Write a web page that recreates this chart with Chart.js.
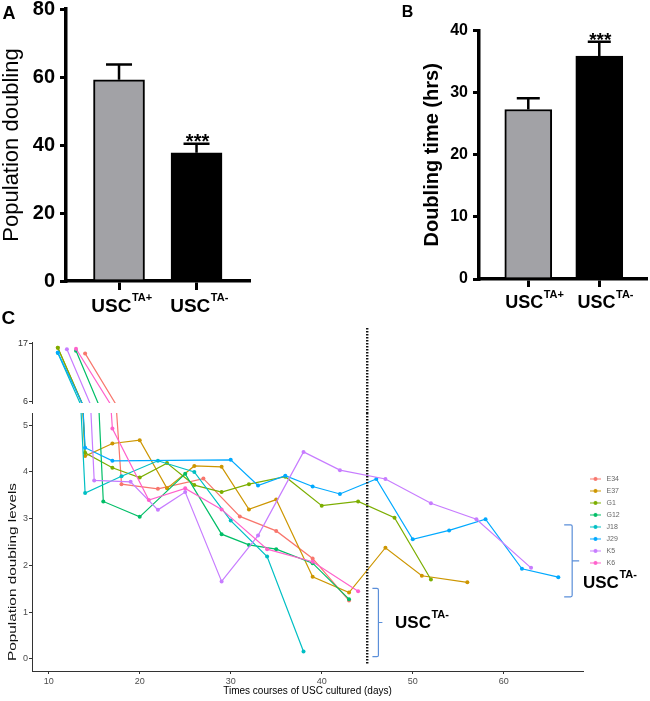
<!DOCTYPE html>
<html><head><meta charset="utf-8">
<script src="https://cdn.jsdelivr.net/npm/chart.js@4.4.1/dist/chart.umd.min.js"></script>
<style>
html,body{margin:0;padding:0;background:#fff;}
#wrap{position:relative;width:650px;height:701px;overflow:hidden;background:#fff;}
canvas{position:absolute;display:block;}
</style></head><body>
<div id="wrap">
<canvas id="cLow" width="650" height="381" style="left:0;top:320px;width:650px;height:381px"></canvas>
<canvas id="cUp" width="650" height="113" style="left:0;top:300px;width:650px;height:113px"></canvas>
<canvas id="cA" width="330" height="320" style="left:0;top:0;width:330px;height:320px"></canvas>
<canvas id="cB" width="320" height="320" style="left:330px;top:0;width:320px;height:320px"></canvas>
</div>
<script>
// ---------------- DATA ----------------
// Panels A & B
const groupMain = ['USC', 'USC'];
const groupSup = ['TA+', 'TA-'];
const pdMeans = [59.2, 37.7];          // population doubling
const pdErr = [4.5, 2.7];
const dtMeans = [27.3, 35.9];          // doubling time (hrs)
const dtErr = [1.8, 2.3];
const yTicksA = [0, 20, 40, 60, 80];
const yTicksB = [0, 10, 20, 30, 40];

// Panel C
const seriesNames = ['E34', 'E37', 'G1', 'G12', 'J18', 'J29', 'K5', 'K6'];
const daysE34 = [14, 18, 22, 27, 31, 35, 39, 43];
const pdlE34  = [15.2, 3.74, 3.64, 3.86, 3.05, 2.74, 2.15, 1.25];
const daysE37 = [11, 14, 17, 20, 23, 26, 29, 32, 35, 39, 43, 47, 51, 56];
const pdlE37  = [16.3, 4.34, 4.61, 4.68, 3.65, 4.13, 4.11, 3.2, 3.41, 1.76, 1.42, 2.38, 1.78, 1.64];
const daysG1  = [11, 14, 17, 20, 23, 26, 29, 32, 36, 40, 44, 48, 52];
const pdlG1   = [16.3, 4.41, 4.09, 3.88, 4.19, 3.72, 3.57, 3.74, 3.9, 3.28, 3.37, 3.02, 1.7];
const daysG12 = [13, 16, 20, 25, 29, 32, 35, 39, 43];
const pdlG12  = [15.7, 3.37, 3.04, 3.96, 2.67, 2.44, 2.35, 2.05, 1.28];
const daysJ18 = [11, 14, 18, 22, 26, 30, 34, 38];
const pdlJ18  = [15.3, 3.55, 3.91, 4.24, 4.0, 2.96, 2.19, 0.16];
const daysJ29 = [11, 14, 17, 30, 33, 36, 39, 42, 46, 50, 54, 58, 62, 66];
const pdlJ29  = [15.4, 4.52, 4.24, 4.26, 3.71, 3.92, 3.69, 3.53, 3.85, 2.56, 2.75, 2.99, 1.93, 1.75];
const daysK5  = [12, 15, 19, 22, 25, 29, 33, 38, 42, 47, 52, 57, 63];
const pdlK5   = [16.0, 3.82, 3.79, 3.19, 3.57, 1.66, 2.64, 4.43, 4.04, 3.85, 3.33, 2.99, 1.95];
const daysK6  = [13, 17, 21, 25, 29, 34, 39, 44];
const pdlK6   = [16.1, 4.93, 3.4, 3.65, 3.2, 2.35, 2.08, 1.45];
const seriesDays = [daysE34, daysE37, daysG1, daysG12, daysJ18, daysJ29, daysK5, daysK6];
const seriesVals = [pdlE34, pdlE37, pdlG1, pdlG12, pdlJ18, pdlJ29, pdlK5, pdlK6];
const xTicksC = [10, 20, 30, 40, 50, 60];
const lowerYTicks = [0, 1, 2, 3, 4, 5];
const upperYTicks = [6, 17];
const cutoffDay = 45;

// ---------------- STYLE ----------------
const FONT = "'Liberation Sans', Arial, Helvetica, sans-serif";
const seriesColors = ['#F8766D', '#CD9600', '#7CAE00', '#00BE67', '#00BFC4', '#00A9FF', '#C77CFF', '#FF61CC'];
const barFills = ['#a2a2a6', '#000000'];

function drawSup(ctx, main, sup, x, baseline, mainSize, supSize, raise, align) {
  ctx.save();
  ctx.fillStyle = '#000';
  ctx.textBaseline = 'alphabetic';
  ctx.textAlign = 'left';
  ctx.font = 'bold ' + mainSize + 'px ' + FONT;
  const w1 = ctx.measureText(main).width;
  ctx.font = 'bold ' + supSize + 'px ' + FONT;
  const w2 = ctx.measureText(sup).width;
  const x0 = align === 'center' ? x - (w1 + w2) / 2 : x;
  ctx.font = 'bold ' + mainSize + 'px ' + FONT;
  ctx.fillText(main, x0, baseline);
  ctx.font = 'bold ' + supSize + 'px ' + FONT;
  ctx.fillText(sup, x0 + w1 + 0.5, baseline - raise);
  ctx.restore();
}

function barExtras(cfg) {
  return {
    id: 'barExtras',
    afterDatasetsDraw(chart) {
      const ctx = chart.ctx, xs = chart.scales.x, ys = chart.scales.y;
      ctx.save();
      ctx.strokeStyle = '#000';
      ctx.lineWidth = 2.5;
      cfg.means.forEach((m, i) => {
        const x = xs.getPixelForValue(i + 1);
        const y0 = ys.getPixelForValue(m);
        const y1 = ys.getPixelForValue(m + cfg.err[i]);
        ctx.beginPath();
        ctx.moveTo(x, y0); ctx.lineTo(x, y1);
        ctx.moveTo(x - cfg.cap / 2, y1); ctx.lineTo(x + cfg.cap / 2, y1);
        ctx.stroke();
      });
      // significance stars on second group
      const xi = xs.getPixelForValue(2);
      const yc = ys.getPixelForValue(cfg.means[1] + cfg.err[1]);
      ctx.fillStyle = '#000';
      ctx.font = 'bold ' + cfg.starSize + 'px ' + FONT;
      ctx.textAlign = 'center';
      ctx.textBaseline = 'alphabetic';
      ctx.fillText('***', xi + 1, yc + 4);
      ctx.restore();
    },
    afterDraw(chart) {
      const ctx = chart.ctx, xs = chart.scales.x;
      groupMain.forEach((m, i) => {
        drawSup(ctx, m, groupSup[i], xs.getPixelForValue(i + 1) + cfg.labelShift, cfg.labelBase,
          cfg.mainSize, cfg.supSize, cfg.raise, 'center');
      });
      ctx.save();
      ctx.fillStyle = '#000';
      ctx.font = 'bold ' + cfg.letterSize + 'px ' + FONT;
      ctx.textAlign = 'left';
      ctx.textBaseline = 'alphabetic';
      ctx.fillText(cfg.letter, cfg.letterX, cfg.letterY);
      ctx.restore();
    }
  };
}

function barChart(id, means, yTicks, yMax, opt) {
  return new Chart(document.getElementById(id), {
    type: 'bar',
    data: {
      datasets: [{
        data: means.map((v, i) => ({ x: i + 1, y: v })),
        backgroundColor: barFills,
        borderColor: '#000',
        borderWidth: 2,
        barThickness: opt.barW
      }]
    },
    options: {
      responsive: false, animation: false, events: [], devicePixelRatio: 1,
      layout: { padding: opt.padding },
      plugins: { legend: { display: false }, tooltip: { enabled: false } },
      scales: {
        x: {
          type: 'linear', min: opt.xMin, max: opt.xMax, offset: false,
          afterBuildTicks: s => { s.ticks = means.map((v, i) => ({ value: i + 1 })); },
          afterFit: s => { s.height = opt.xH; s.paddingLeft = 0; s.paddingRight = 0; },
          grid: { display: true, offset: false, drawOnChartArea: false, drawTicks: true, tickLength: opt.xTick, lineWidth: 3, color: '#000' },
          border: { display: true, width: 3.5, color: '#000' },
          ticks: { display: false }
        },
        y: {
          min: 0, max: yMax,
          afterBuildTicks: s => { s.ticks = yTicks.map(v => ({ value: v })); },
          afterFit: s => { s.width = opt.yW; s.paddingTop = 0; s.paddingBottom = 0; },
          grid: { drawOnChartArea: false, drawTicks: true, tickLength: 6, lineWidth: 3, color: '#000' },
          border: { display: true, width: 3.5, color: '#000' },
          ticks: { font: { family: FONT, size: opt.tickSize, weight: 'bold' }, color: '#000', padding: 5 },
          title: { display: true, text: opt.title, color: '#000',
            font: { family: FONT, size: opt.titleSize, weight: opt.titleWeight, lineHeight: 1.1 },
            padding: { top: opt.titlePad, bottom: 0 } }
        }
      }
    },
    plugins: [barExtras(opt.extras)]
  });
}

// Panel A
barChart('cA', pdMeans, yTicksA, 80, {
  barW: 51, padding: { top: 9, left: 0, right: 81, bottom: 0 },
  xMin: 0.316, xMax: 2.677, xH: 39, xTick: 9, yW: 66, tickSize: 20,
  title: 'Population doubling', titleSize: 22, titleWeight: 'normal', titlePad: 0,
  extras: { means: pdMeans, err: pdErr, cap: 26, starSize: 20, labelShift: 2.5, labelBase: 311.7,
    mainSize: 19, supSize: 11, raise: 11, letter: 'A', letterSize: 18, letterX: 2.5, letterY: 19.3 }
});

// Panel B
barChart('cB', dtMeans, yTicksB, 40, {
  barW: 47, padding: { top: 30.7, left: 90, right: 4, bottom: 0 },
  xMin: 0.306, xMax: 2.658, xH: 41, xTick: 8, yW: 59, tickSize: 16,
  title: 'Doubling time (hrs)', titleSize: 20, titleWeight: 'bold', titlePad: 1.5,
  extras: { means: dtMeans, err: dtErr, cap: 23, starSize: 19, labelShift: 6, labelBase: 308.3,
    mainSize: 18, supSize: 11, raise: 10.4, letter: 'B', letterSize: 16, letterX: 71.7, letterY: 16.7 }
});

// ---------------- Panel C ----------------
const X_MIN = 8.165, X_MAX = 68.71;
function cDatasets() {
  return seriesNames.map((name, i) => ({
    label: name,
    data: seriesDays[i].map((d, k) => ({ x: d, y: seriesVals[i][k] })),
    borderColor: seriesColors[i],
    backgroundColor: seriesColors[i],
    borderWidth: 1.2,
    pointRadius: 2,
    pointBorderWidth: 0,
    pointHoverRadius: 2,
    tension: 0,
    fill: false,
    order: seriesNames.length - i
  }));
}

function legendIcon(color) {
  const c = document.createElement('canvas');
  c.width = 11; c.height = 6;
  const g = c.getContext('2d');
  g.strokeStyle = color; g.lineWidth = 1;
  g.beginPath(); g.moveTo(0, 3); g.lineTo(11, 3); g.stroke();
  g.fillStyle = color;
  g.beginPath(); g.arc(5.5, 3, 2, 0, Math.PI * 2); g.fill();
  return c;
}
const icons = seriesColors.map(legendIcon);

function drawVline(chart, yTop, yBot) {
  const ctx = chart.ctx;
  const x = chart.scales.x.getPixelForValue(cutoffDay);
  ctx.save();
  ctx.strokeStyle = '#111';
  ctx.lineWidth = 2.4;
  ctx.setLineDash([1.6, 1.4]);
  ctx.beginPath(); ctx.moveTo(x, yTop); ctx.lineTo(x, yBot); ctx.stroke();
  ctx.restore();
}

const brackets = [
  { x: 46.23, top: 1.51, bottom: 0.05, mid: 0.78, serif: 6, nub: 4, lx: 48.06, ly: 0.663 },
  { x: 67.52, top: 2.87, bottom: 1.33, mid: 2.10, serif: 8, nub: 7, lx: 68.71, ly: 1.52 }
];

const lowerExtras = {
  id: 'lowerExtras',
  afterDatasetsDraw(chart) {
    const ctx = chart.ctx, xs = chart.scales.x, ys = chart.scales.y;
    drawVline(chart, chart.chartArea.top, ys.getPixelForValue(-0.13));
    ctx.save();
    ctx.strokeStyle = '#5b8fd9';
    ctx.lineWidth = 1.2;
    brackets.forEach(b => {
      const x = xs.getPixelForValue(b.x);
      const t = ys.getPixelForValue(b.top), bo = ys.getPixelForValue(b.bottom), m = ys.getPixelForValue(b.mid);
      ctx.beginPath();
      ctx.moveTo(x - b.serif, t); ctx.lineTo(x - 1.5, t);
      ctx.quadraticCurveTo(x, t, x, t + 1.5);
      ctx.lineTo(x, bo - 1.5);
      ctx.quadraticCurveTo(x, bo, x - 1.5, bo);
      ctx.lineTo(x - b.serif, bo);
      ctx.moveTo(x, m); ctx.lineTo(x + b.nub, m);
      ctx.stroke();
    });
    ctx.restore();
  },
  afterDraw(chart) {
    const ctx = chart.ctx, xs = chart.scales.x, ys = chart.scales.y;
    brackets.forEach(b => {
      drawSup(ctx, 'USC', 'TA-', xs.getPixelForValue(b.lx), ys.getPixelForValue(b.ly), 17, 11, 9.6, 'left');
    });
    // stretched y-axis title
    const t = 'Population doubling levels';
    ctx.save();
    ctx.translate(13, 252);
    ctx.rotate(-Math.PI / 2);
    ctx.font = '10.5px ' + FONT;
    const w = ctx.measureText(t).width;
    ctx.scale(178 / w, 1);
    ctx.fillStyle = '#111';
    ctx.textAlign = 'center';
    ctx.textBaseline = 'middle';
    ctx.fillText(t, 0, 0);
    ctx.restore();
  }
};

const upperExtras = {
  id: 'upperExtras',
  afterDatasetsDraw(chart) {
    drawVline(chart, chart.chartArea.top - 14, chart.height);
  },
  afterDraw(chart) {
    const ctx = chart.ctx;
    ctx.save();
    ctx.fillStyle = '#000';
    ctx.font = 'bold 19px ' + FONT;
    ctx.textBaseline = 'alphabetic';
    ctx.fillText('C', 1.5, 24);
    ctx.restore();
  }
};

const cTickFont = { family: FONT, size: 9 };

const lowerOpts = {
  responsive: false, animation: false, events: [], devicePixelRatio: 1,
  layout: { padding: { top: 93, left: 0, right: 14, bottom: 0 } },
  plugins: {
    tooltip: { enabled: false },
    legend: {
      display: true, position: 'right', align: 'start', fullSize: false,
      title: { display: true, text: '', padding: { top: 49, bottom: 0 }, font: { family: FONT, size: 7 } },
      labels: {
        usePointStyle: true, pointStyleWidth: 15, boxHeight: 7, padding: 5,
        font: { family: FONT, size: 7 }, color: '#333',
        generateLabels: chart => chart.data.datasets.map((ds, i) => ({
          text: ds.label, fillStyle: ds.borderColor, strokeStyle: ds.borderColor,
          lineWidth: 0, pointStyle: icons[i], hidden: false, datasetIndex: i
        }))
      }
    }
  },
  scales: {
    x: {
      type: 'linear', min: X_MIN, max: X_MAX,
      afterBuildTicks: s => { s.ticks = xTicksC.map(v => ({ value: v })); },
      afterFit: s => { s.height = 30; s.paddingLeft = 0; s.paddingRight = 0; },
      grid: { drawOnChartArea: false, drawTicks: true, tickLength: 3, color: '#333', lineWidth: 1 },
      border: { display: true, color: '#333', width: 1 },
      ticks: { font: cTickFont, color: '#4D4D4D', padding: 2, maxRotation: 0 },
      title: { display: true, text: 'Times courses of USC cultured (days)', color: '#000',
        font: { family: FONT, size: 10 }, padding: { top: 0, bottom: 4 } }
    },
    y: {
      min: -0.257, max: 5.262,
      afterBuildTicks: s => { s.ticks = lowerYTicks.map(v => ({ value: v })); },
      afterFit: s => { s.width = 32; s.paddingTop = 0; s.paddingBottom = 0; },
      grid: { drawOnChartArea: false, drawTicks: true, tickLength: 3, color: '#333', lineWidth: 1 },
      border: { display: true, color: '#333', width: 1 },
      ticks: { font: cTickFont, color: '#4D4D4D', padding: 1 }
    }
  }
};

const lowerChart = new Chart(document.getElementById('cLow'), {
  type: 'line',
  data: { datasets: cDatasets() },
  options: lowerOpts,
  plugins: [lowerExtras]
});
for (let k = 0; k < 3; k++) {
  const d = lowerChart.chartArea.right - 583;
  if (Math.abs(d) < 0.3) break;
  lowerOpts.layout.padding.right += d;
  lowerChart.update();
}

new Chart(document.getElementById('cUp'), {
  type: 'line',
  data: { datasets: cDatasets() },
  options: {
    responsive: false, animation: false, events: [], devicePixelRatio: 1,
    layout: { padding: { top: 42, left: 0, right: 67, bottom: 10 } },
    plugins: { legend: { display: false }, tooltip: { enabled: false } },
    scales: {
      x: { type: 'linear', display: false, min: X_MIN, max: X_MAX },
      y: {
        min: 5.75, max: 17.38,
        afterBuildTicks: s => { s.ticks = upperYTicks.map(v => ({ value: v })); },
        afterFit: s => { s.width = 32; s.paddingTop = 0; s.paddingBottom = 0; },
        grid: { drawOnChartArea: false, drawTicks: true, tickLength: 3, color: '#333', lineWidth: 1 },
        border: { display: true, color: '#333', width: 1 },
        ticks: { font: cTickFont, color: '#333', padding: 1 }
      }
    }
  },
  plugins: [upperExtras]
});
</script>
</body></html>
